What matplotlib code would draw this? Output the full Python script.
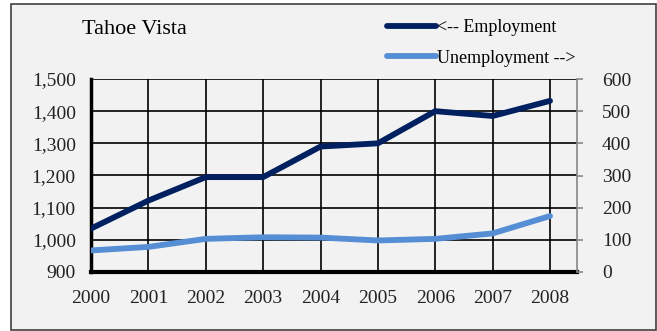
import matplotlib.pyplot as plt
from matplotlib.patches import Rectangle

years = [2000, 2001, 2002, 2003, 2004, 2005, 2006, 2007, 2008]
employment = [1035, 1122, 1195, 1195, 1290, 1300, 1400, 1385, 1432]
unemployment = [67, 78, 103, 108, 107, 98, 103, 120, 174]
left_ticks = [900, 1000, 1100, 1200, 1300, 1400, 1500]
right_ticks = [0, 100, 200, 300, 400, 500, 600]

plt.rcParams['font.family'] = ['Liberation Serif', 'DejaVu Serif']
bg = '#f2f2f2'
navy = '#002060'
light = '#558ed5'

fig = plt.figure(figsize=(6.57, 3.31), dpi=100, facecolor='white')
fig.patches.append(Rectangle((11 / 657, 1 - 330 / 331), 645 / 657, 326 / 331,
                             transform=fig.transFigure, facecolor=bg,
                             edgecolor='#404040', linewidth=1.2, zorder=-10))

ax = fig.add_axes([91 / 657, 1 - 272 / 331, 486 / 657, 193 / 331])
ax.set_facecolor(bg)
ax2 = ax.twinx()

ax.set_xlim(2000, 2008.47)
ax.set_ylim(900, 1500)
ax2.set_ylim(0, 600)
ax.set_xticks(years)
ax.set_xticklabels([str(y) for y in years])
ax.set_yticks(left_ticks)
ax.set_yticklabels(['{:,}'.format(v) for v in left_ticks])
ax2.set_yticks(right_ticks)

ax.grid(True, color='black', linewidth=1.2)
ax.set_axisbelow(True)

l1, = ax.plot(years, employment, color=navy, linewidth=4.2, solid_capstyle='round',
              solid_joinstyle='round', label='<-- Employment', zorder=3)
l2, = ax2.plot(years, unemployment, color=light, linewidth=4.2, solid_capstyle='round',
               solid_joinstyle='round', label='Unemployment -->', zorder=3)

ax.spines['top'].set_visible(False)
ax2.spines['top'].set_visible(False)
ax.spines['right'].set_visible(False)
ax2.spines['left'].set_visible(False)
ax2.spines['bottom'].set_visible(False)
ax.spines['left'].set_linewidth(2.5)
ax.spines['bottom'].set_linewidth(3)
ax2.spines['right'].set_color('#888888')
ax2.spines['right'].set_linewidth(1.2)

ax.tick_params(axis='both', length=0, labelsize=14, colors='#222222')
ax.tick_params(axis='x', pad=13)
ax.tick_params(axis='y', pad=11)
ax2.tick_params(axis='y', length=4, width=1.2, color='#888888', labelsize=14,
                labelcolor='#222222', pad=14)

fig.text(82 / 657, 1 - 30 / 331, 'Tahoe Vista', fontsize=16, va='center', ha='left')

fig.legend(handles=[l1, l2], loc='center left', bbox_to_anchor=(378 / 657, 1 - 43 / 331),
           frameon=False, fontsize=13, handlelength=2.7, handletextpad=0.05,
           labelspacing=0.75, borderpad=0)

fig.savefig('out.png', dpi=100, facecolor='white')
